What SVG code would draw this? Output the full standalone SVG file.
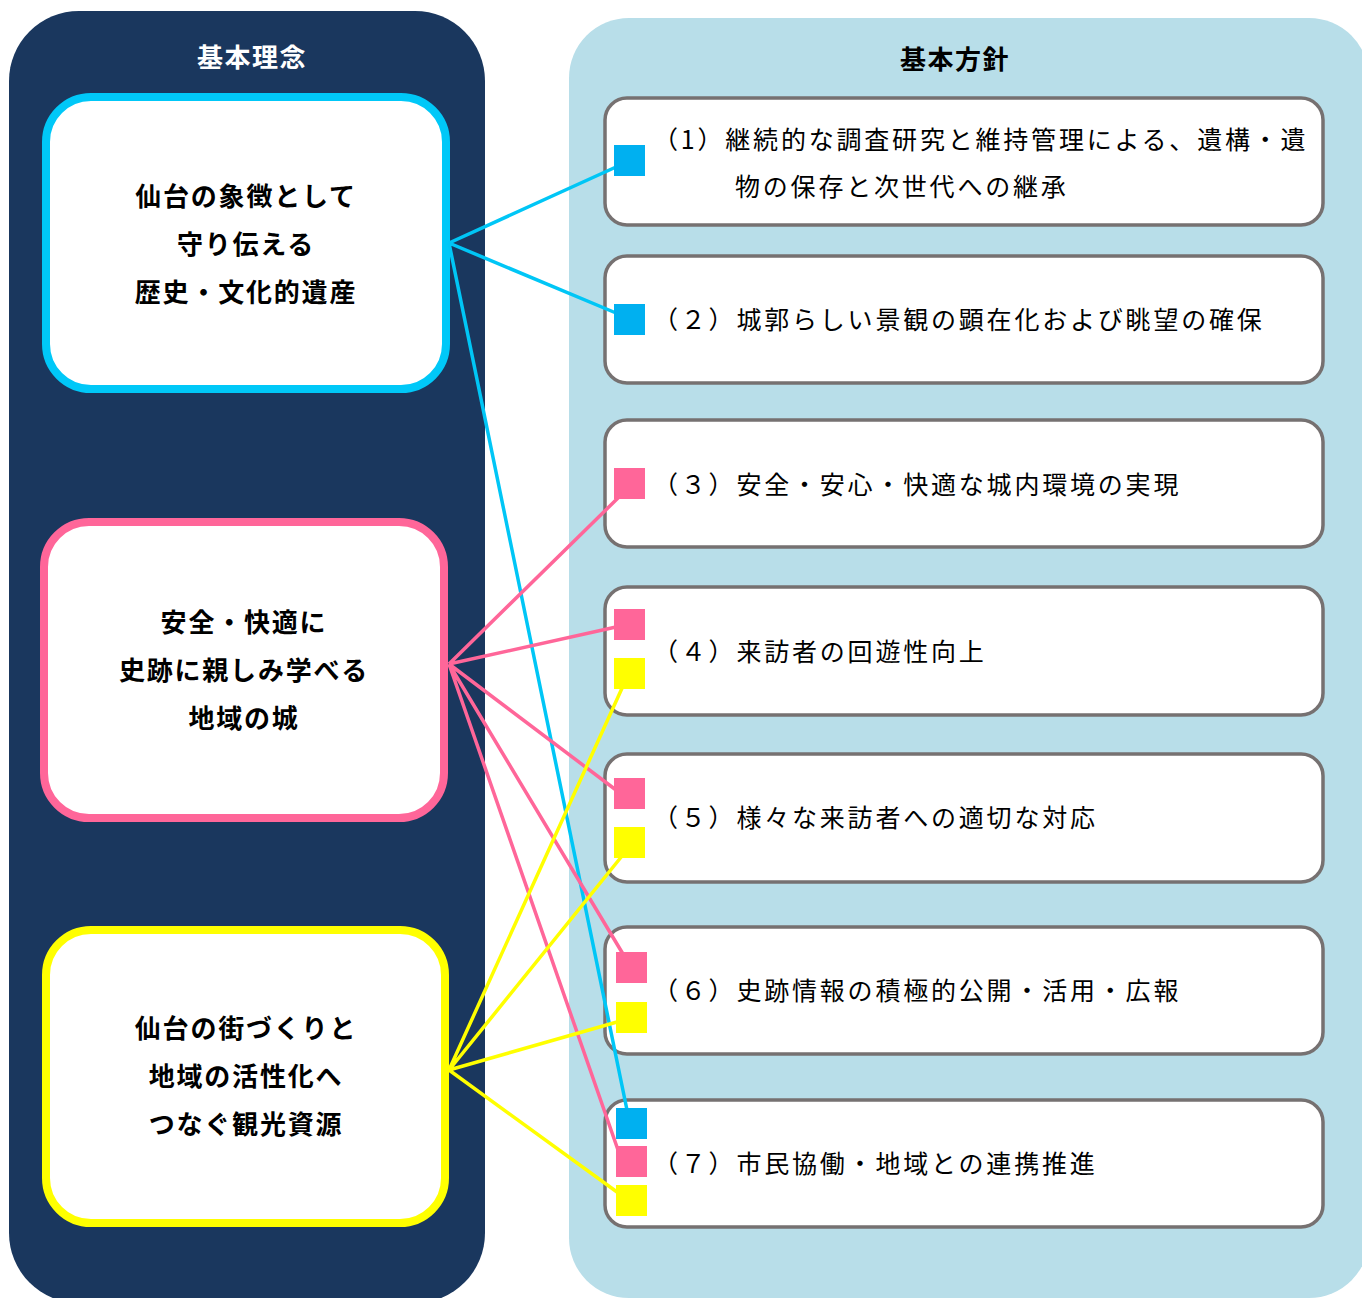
<svg xmlns="http://www.w3.org/2000/svg" width="1362" height="1298" viewBox="0 0 1362 1298">
<style>
.hdr{font-family:"Noto Sans CJK JP","Noto Sans",sans-serif;font-size:26px;font-weight:bold;text-anchor:middle;letter-spacing:1.5px}
.lt{font-family:"Noto Sans CJK JP","Noto Sans",sans-serif;font-size:26px;font-weight:bold;text-anchor:middle;fill:#000;letter-spacing:1.8px}
.rt{font-family:"Noto Sans CJK JP","Noto Sans",sans-serif;font-size:25px;fill:#000;letter-spacing:2.8px}
.lb{fill:#fff;stroke-width:8}
.rb{fill:#fff;stroke:#767171;stroke-width:3.5}
.cy{stroke:#00c6f6;stroke-width:3.5;fill:none}
.pk{stroke:#ff6699;stroke-width:3.5;fill:none}
.yl{stroke:#ffff00;stroke-width:3.5;fill:none}
.sc{fill:#00b0f0}.sp{fill:#ff6699}.sy{fill:#ffff00}
</style>
<rect width="1362" height="1298" fill="#fff"/>
<g id="panel-left">
<rect x="9" y="11" width="476" height="1292" rx="70" fill="#1a375e"/>
<text class="hdr" x="252" y="67" fill="#fff">基本理念</text>
</g>
<g id="panel-right">
<rect x="569" y="18" width="800" height="1280" rx="60" fill="#b8dee9"/>
<text class="hdr" x="955" y="69" fill="#000">基本方針</text>
</g>
<g id="idea1">
<rect class="lb" x="46" y="97" width="400" height="292" rx="45" stroke="#00c8f8"/>
<text class="lt" x="246" y="206">仙台の象徴として</text>
<text class="lt" x="246" y="254">守り伝える</text>
<text class="lt" x="246" y="302">歴史・文化的遺産</text>
</g>
<g id="idea2">
<rect class="lb" x="44" y="522" width="400" height="296" rx="45" stroke="#ff6699"/>
<text class="lt" x="244" y="632">安全・快適に</text>
<text class="lt" x="244" y="680">史跡に親しみ学べる</text>
<text class="lt" x="244" y="728">地域の城</text>
</g>
<g id="idea3">
<rect class="lb" x="46" y="930" width="399" height="293" rx="45" stroke="#ffff00"/>
<text class="lt" x="246" y="1038">仙台の街づくりと</text>
<text class="lt" x="246" y="1086">地域の活性化へ</text>
<text class="lt" x="246" y="1134">つなぐ観光資源</text>
</g>
<g id="policy1">
<rect class="rb" x="605" y="98" width="718" height="127" rx="22"/>
<text class="rt" x="653" y="149">（1）継続的な調査研究と維持管理による、遺構・遺</text>
<text class="rt" x="735" y="196">物の保存と次世代への継承</text>
</g>
<g id="policy2">
<rect class="rb" x="605" y="256" width="718" height="127" rx="22"/>
<text class="rt" x="653" y="329">（２）城郭らしい景観の顕在化および眺望の確保</text>
</g>
<g id="policy3">
<rect class="rb" x="605" y="420" width="718" height="127" rx="22"/>
<text class="rt" x="653" y="494">（３）安全・安心・快適な城内環境の実現</text>
</g>
<g id="policy4">
<rect class="rb" x="605" y="587" width="718" height="128" rx="22"/>
<text class="rt" x="653" y="661">（４）来訪者の回遊性向上</text>
</g>
<g id="policy5">
<rect class="rb" x="605" y="754" width="718" height="128" rx="22"/>
<text class="rt" x="653" y="827">（５）様々な来訪者への適切な対応</text>
</g>
<g id="policy6">
<rect class="rb" x="605" y="927" width="718" height="127" rx="22"/>
<text class="rt" x="653" y="1000">（６）史跡情報の積極的公開・活用・広報</text>
</g>
<g id="policy7">
<rect class="rb" x="605" y="1100" width="718" height="127" rx="22"/>
<text class="rt" x="653" y="1173">（７）市民協働・地域との連携推進</text>
</g>
<g id="connectors">
<path class="cy" d="M449 243L616 167M449 243L616 313M449 243L627 1110"/>
<path class="pk" d="M449 664L619 497M449 664L616 627M449 664L616 790M449 664L623 954M449 664L618 1150"/>
<path class="yl" d="M449 1070L623 686M449 1070L622 856M449 1070L617 1022M449 1070L617 1192"/>
</g>
<g id="ports">
<rect class="sc" x="614" y="145" width="31" height="31"/>
<rect class="sc" x="614" y="304" width="31" height="31"/>
<rect class="sp" x="614" y="468" width="31" height="31"/>
<rect class="sp" x="614" y="609" width="31" height="31"/>
<rect class="sy" x="614" y="658" width="31" height="31"/>
<rect class="sp" x="614" y="778" width="31" height="31"/>
<rect class="sy" x="614" y="827" width="31" height="31"/>
<rect class="sp" x="616" y="952" width="31" height="31"/>
<rect class="sy" x="616" y="1002" width="31" height="31"/>
<rect class="sc" x="616" y="1108" width="31" height="31"/>
<rect class="sp" x="616" y="1146" width="31" height="31"/>
<rect class="sy" x="616" y="1185" width="31" height="31"/>
</g>
</svg>
